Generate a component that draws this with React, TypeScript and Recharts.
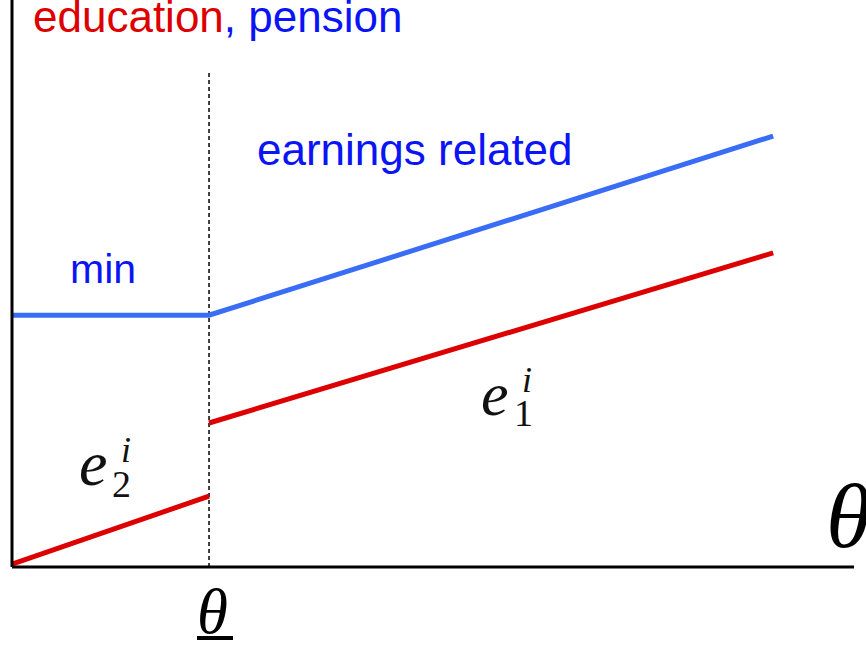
import React from "react";
import { LineChart, Line, XAxis, YAxis, ReferenceLine } from "recharts";

// theta threshold (underline theta) and end of plotted range
const thetaThreshold = 23.4;
const thetaEnd = 90.4;

// pension (blue): minimum then earnings related
const pensionX = [0, thetaThreshold, thetaEnd];
const pensionY = [44.4, 44.4, 76.0];

// education e2 (below threshold)
const edu2X = [0, thetaThreshold];
const edu2Y = [0.5, 12.5];

// education e1 (above threshold)
const edu1X = [thetaThreshold, thetaEnd];
const edu1Y = [25.4, 55.4];

const dashedTop = 87.3;

const toPts = (xs: number[], ys: number[]) => xs.map((x, i) => ({ x, y: ys[i] }));

const W = 866;
const H = 645;
const RED = "#dd0000";
const BLUE_TEXT = "#0a14f5";
const BLUE_LINE = "#3a6df6";
const sans = "'Liberation Sans', Arial, sans-serif";
const serif = "'Liberation Serif', 'Times New Roman', serif";

export default function App() {
  return (
    <div style={{ position: "absolute", left: 0, top: 0, width: W, height: H, background: "#fff" }}>
      <LineChart width={W} height={H} margin={{ top: 0, right: 12, bottom: 77, left: 11 }}>
        <XAxis
          type="number"
          dataKey="x"
          domain={[0, 100]}
          height={1}
          tick={false}
          tickLine={false}
          axisLine={{ stroke: "#000", strokeWidth: 3 }}
          allowDataOverflow
        />
        <YAxis
          type="number"
          dataKey="y"
          domain={[0, 100]}
          width={1}
          tick={false}
          tickLine={false}
          axisLine={{ stroke: "#000", strokeWidth: 3 }}
          allowDataOverflow
        />
        <ReferenceLine
          segment={[
            { x: thetaThreshold, y: 0 },
            { x: thetaThreshold, y: dashedTop },
          ]}
          stroke="#000"
          strokeWidth={1.5}
          strokeDasharray="4 3"
        />
        <Line
          data={toPts(pensionX, pensionY)}
          dataKey="y"
          type="linear"
          stroke={BLUE_LINE}
          strokeWidth={5}
          dot={false}
          activeDot={false}
          isAnimationActive={false}
        />
        <Line
          data={toPts(edu2X, edu2Y)}
          dataKey="y"
          type="linear"
          stroke={RED}
          strokeWidth={5}
          dot={false}
          activeDot={false}
          isAnimationActive={false}
        />
        <Line
          data={toPts(edu1X, edu1Y)}
          dataKey="y"
          type="linear"
          stroke={RED}
          strokeWidth={5}
          dot={false}
          activeDot={false}
          isAnimationActive={false}
        />
      </LineChart>
      <svg
        width={W}
        height={H}
        style={{ position: "absolute", left: 0, top: 0, pointerEvents: "none" }}
      >
        <text x={33} y={32} fontFamily={sans} fontSize={44} fill={RED}>
          education<tspan fill={BLUE_TEXT}>, pension</tspan>
        </text>
        <text x={257} y={165} fontFamily={sans} fontSize={44} fill={BLUE_TEXT}>
          earnings related
        </text>
        <text x={70} y={283} fontFamily={sans} fontSize={41} fill={BLUE_TEXT}>
          min
        </text>
        {/* e2^i */}
        <text x={79} y={485} fontFamily={serif} fontStyle="italic" fontSize={64} fill="#111">
          e
        </text>
        <text x={112} y={497} fontFamily={serif} fontSize={38} fill="#111">
          2
        </text>
        <text x={121} y={462} fontFamily={serif} fontStyle="italic" fontSize={36} fill="#111">
          i
        </text>
        {/* e1^i */}
        <text x={481} y={415} fontFamily={serif} fontStyle="italic" fontSize={62} fill="#111">
          e
        </text>
        <text x={514} y={426} fontFamily={serif} fontSize={38} fill="#111">
          1
        </text>
        <text x={522} y={392} fontFamily={serif} fontStyle="italic" fontSize={36} fill="#111">
          i
        </text>
        {/* axis labels */}
        <text x={826} y={547} fontFamily={serif} fontStyle="italic" fontSize={92} fill="#000">
          θ
        </text>
        <text x={197} y={633} fontFamily={serif} fontStyle="italic" fontSize={63} fill="#000">
          θ
        </text>
        <line x1={197} y1={638} x2={233} y2={638} stroke="#000" strokeWidth={4} />
      </svg>
    </div>
  );
}
